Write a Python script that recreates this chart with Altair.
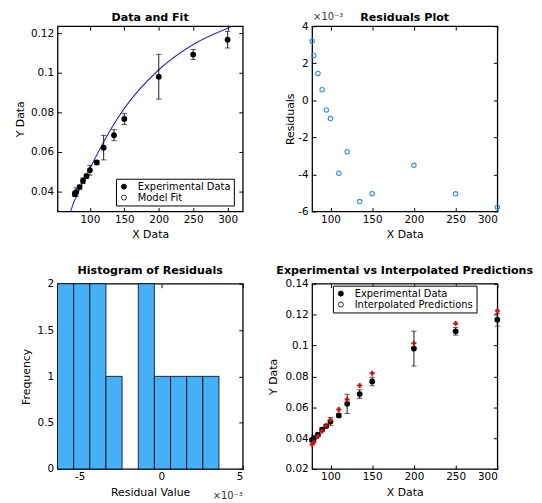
import altair as alt
import pandas as pd

# ---------------- data ----------------
x_data = [78, 80, 85, 90, 95, 100, 110, 120, 135, 150, 200, 250, 300]
y_data = [0.0388, 0.0397, 0.0423, 0.0455, 0.0478, 0.0508, 0.0547, 0.0622, 0.0685, 0.0767, 0.0980, 0.1092, 0.1167]
y_err = [0.0012, 0.0022, 0.0010, 0.0014, 0.0010, 0.0025, 0.0010, 0.0062, 0.0028, 0.0028, 0.0113, 0.0025, 0.0042]
y_pred = [0.0358, 0.0373, 0.0410, 0.0446, 0.0482, 0.0517, 0.0585, 0.0650, 0.0741, 0.0820, 0.1015, 0.1143, 0.1225]
resid_e3 = [3.19, 2.42, 1.45, 0.57, -0.52, -0.99, -3.94, -2.78, -5.47, -5.04, -3.51, -5.05, -5.77]
fit_curve_x = [72, 78, 80, 85, 90, 95, 100, 110, 120, 135, 150, 200, 250, 300, 322]
fit_curve_y = [0.0300, 0.0358, 0.0373, 0.0410, 0.0446, 0.0482, 0.0517, 0.0585, 0.0650, 0.0741, 0.0820,
               0.1015, 0.1143, 0.1225, 0.1256]
hist_edges = [-6.36, -5.37, -4.38, -3.39, -2.40, -1.41, -0.42, 0.57, 1.56, 2.55, 3.54]
hist_counts = [2, 2, 2, 1, 0, 2, 1, 1, 1, 1]

exp_df = pd.DataFrame({"x": x_data, "y": y_data, "err": y_err, "pred": y_pred, "res": resid_e3})
exp_df["lo"] = exp_df["y"] - exp_df["err"]
exp_df["hi"] = exp_df["y"] + exp_df["err"]
fit_df = pd.DataFrame({"fx": fit_curve_x, "fy": fit_curve_y})
hist_df = pd.DataFrame({"b0": hist_edges[:-1], "b1": hist_edges[1:], "count": hist_counts})

FONT = "DejaVu Sans"
W = H = 187
LABEL = "toString(datum.value)"


def axis_main(orient, values, title, title_pad, label_pad):
    return alt.Axis(orient=orient, values=values, labelExpr=LABEL, title=title, grid=False,
                    domain=False, ticks=True, tickSize=4, offset=-4, labelPadding=label_pad,
                    titlePadding=title_pad)


def axis_box(orient, values):
    return alt.Axis(orient=orient, values=values, labels=False, title=None, grid=False,
                    domain=False, ticks=True, tickSize=4, offset=-4)


def legend_layer(field, names, lx, ly):
    df = pd.DataFrame({field: names})
    return alt.Chart(df).mark_point(filled=True, opacity=0, stroke="black", strokeWidth=0.8,
                                    size=26, shape="circle").encode(
        fill=alt.Fill(f"{field}:N", scale=alt.Scale(domain=names, range=["black", "white"]),
                      legend=alt.Legend(title=None, orient="none", legendX=lx, legendY=ly,
                                        symbolOpacity=1, symbolStrokeColor="black",
                                        symbolStrokeWidth=0.8, symbolSize=26, symbolType="circle",
                                        labelFont=FONT, labelFontSize=10, labelColor="black",
                                        strokeColor="black", fillColor="white", padding=3,
                                        rowPadding=1, labelOffset=9))
    )


def title(text, dy=0):
    return alt.Title(text, fontSize=11.2, fontWeight="bold", font=FONT, color="black", offset=3, dy=dy)


# ---------------- panel 1: Data and Fit ----------------
xs1 = alt.Scale(domain=[53, 322], nice=False, zero=False)
ys1 = alt.Scale(domain=[0.03, 0.1235], nice=False, zero=False)
xv1 = [100, 150, 200, 250, 300]
yv1 = [0.04, 0.06, 0.08, 0.1, 0.12]

fit_line = alt.Chart(fit_df).mark_line(color="#2b2bd0", strokeWidth=1.1, clip=True,
                                       interpolate="monotone").encode(
    x=alt.X("fx:Q", scale=xs1, axis=None), y=alt.Y("fy:Q", scale=ys1, axis=None))
err1 = alt.Chart(exp_df).mark_rule(color="black", strokeWidth=0.9).encode(
    x=alt.X("x:Q", scale=xs1, axis=None), y=alt.Y("lo:Q", scale=ys1, axis=None), y2="hi:Q")
caplo1 = alt.Chart(exp_df).mark_tick(color="black", orient="horizontal", size=5.5, thickness=0.9).encode(
    x=alt.X("x:Q", scale=xs1, axis=None), y=alt.Y("lo:Q", scale=ys1, axis=None))
caphi1 = alt.Chart(exp_df).mark_tick(color="black", orient="horizontal", size=5.5, thickness=0.9).encode(
    x=alt.X("x:Q", scale=xs1, axis=None), y=alt.Y("hi:Q", scale=ys1, axis=None))
pts1 = alt.Chart(exp_df).mark_circle(color="black", size=34, opacity=1).encode(
    x=alt.X("x:Q", scale=xs1, axis=axis_main("bottom", xv1, "X Data", 4, 3)),
    y=alt.Y("y:Q", scale=ys1, axis=axis_main("left", yv1, "Y Data", 5, 4)))
box1 = alt.Chart(exp_df).mark_point(opacity=0).encode(
    x=alt.X("x:Q", scale=xs1, axis=axis_box("top", xv1)),
    y=alt.Y("y:Q", scale=ys1, axis=axis_box("right", yv1)))
leg1 = legend_layer("leg1", ["Experimental Data", "Model Fit"], 59, 154)

p1 = alt.layer(leg1, fit_line, err1, caplo1, caphi1, pts1, box1).resolve_axis(
    x="independent", y="independent").properties(width=W, height=H, title=title("Data and Fit"))

# ---------------- panel 2: Residuals Plot ----------------
xs2 = alt.Scale(domain=[78, 300], nice=False, zero=False)
ys2 = alt.Scale(domain=[-6, 4], nice=False, zero=False)
xv2 = [100, 150, 200, 250, 300]
yv2 = [-6, -4, -2, 0, 2, 4]

res_pts = alt.Chart(exp_df).mark_point(shape="circle", filled=False, color="#2f8fe0", size=20,
                                       strokeWidth=1.1, opacity=1).encode(
    x=alt.X("x:Q", scale=xs2, axis=axis_main("bottom", xv2, "X Data", 4, 3)),
    y=alt.Y("res:Q", scale=ys2, axis=axis_main("left", yv2, "Residuals", 2, 4)))
box2 = alt.Chart(exp_df).mark_point(opacity=0).encode(
    x=alt.X("x:Q", scale=xs2, axis=axis_box("top", xv2)),
    y=alt.Y("res:Q", scale=ys2, axis=axis_box("right", yv2)))
exp2 = alt.Chart(pd.DataFrame({"t": ["×10⁻³"]})).mark_text(
    align="left", baseline="alphabetic", font=FONT, fontSize=10, color="#333333").encode(
    text="t:N", x=alt.value(1), y=alt.value(-6))

p2 = alt.layer(res_pts, box2, exp2).resolve_axis(x="independent", y="independent").properties(
    width=W, height=H, title=title("Residuals Plot", dy=14))

# ---------------- panel 3: Histogram of Residuals ----------------
xs3 = alt.Scale(domain=[-6.36, 5], nice=False, zero=False)
ys3 = alt.Scale(domain=[0, 2], nice=False, zero=True)
xv3 = [-5, 0, 5]
yv3 = [0, 0.5, 1, 1.5, 2]

bars = alt.Chart(hist_df).transform_filter("datum.count > 0").mark_bar(
    color="#45b0f8", stroke="black", strokeWidth=0.8, opacity=1).encode(
    x=alt.X("b0:Q", scale=xs3, axis=axis_main("bottom", xv3, "Residual Value", 4, 3)),
    x2="b1:Q",
    y=alt.Y("count:Q", scale=ys3, axis=axis_main("left", yv3, "Frequency", 6, 4)),
    y2=alt.datum(0))
box3 = alt.Chart(hist_df).mark_point(opacity=0).encode(
    x=alt.X("b0:Q", scale=xs3, axis=axis_box("top", xv3)),
    y=alt.Y("count:Q", scale=ys3, axis=axis_box("right", yv3)))
exp3 = alt.Chart(pd.DataFrame({"t": ["×10⁻³"]})).mark_text(
    align="right", baseline="alphabetic", font=FONT, fontSize=10, color="#333333").encode(
    text="t:N", x=alt.value(W), y=alt.value(217))

p3 = alt.layer(bars, box3, exp3).resolve_axis(x="independent", y="independent").properties(
    width=W, height=H, title=title("Histogram of Residuals"))

# ---------------- panel 4: Experimental vs Interpolated ----------------
xs4 = alt.Scale(domain=[78, 300], nice=False, zero=False)
ys4 = alt.Scale(domain=[0.02, 0.14], nice=False, zero=False)
xv4 = [100, 150, 200, 250, 300]
yv4 = [0.02, 0.04, 0.06, 0.08, 0.1, 0.12, 0.14]

err4 = alt.Chart(exp_df).mark_rule(color="black", strokeWidth=0.9).encode(
    x=alt.X("x:Q", scale=xs4, axis=None), y=alt.Y("lo:Q", scale=ys4, axis=None), y2="hi:Q")
caplo4 = alt.Chart(exp_df).mark_tick(color="black", orient="horizontal", size=5.5, thickness=0.9).encode(
    x=alt.X("x:Q", scale=xs4, axis=None), y=alt.Y("lo:Q", scale=ys4, axis=None))
caphi4 = alt.Chart(exp_df).mark_tick(color="black", orient="horizontal", size=5.5, thickness=0.9).encode(
    x=alt.X("x:Q", scale=xs4, axis=None), y=alt.Y("hi:Q", scale=ys4, axis=None))
pts4 = alt.Chart(exp_df).mark_circle(color="black", size=34, opacity=1).encode(
    x=alt.X("x:Q", scale=xs4, axis=axis_main("bottom", xv4, "X Data", 4, 3)),
    y=alt.Y("y:Q", scale=ys4, axis=axis_main("left", yv4, "Y Data", 7, 4)))
pred4 = alt.Chart(exp_df).mark_point(shape="cross", filled=True, color="#d01010", size=26, opacity=1).encode(
    x=alt.X("x:Q", scale=xs4, axis=None), y=alt.Y("pred:Q", scale=ys4, axis=None))
box4 = alt.Chart(exp_df).mark_point(opacity=0).encode(
    x=alt.X("x:Q", scale=xs4, axis=axis_box("top", xv4)),
    y=alt.Y("y:Q", scale=ys4, axis=axis_box("right", yv4)))
leg4 = legend_layer("leg4", ["Experimental Data", "Interpolated Predictions"], 21, 2)

p4 = alt.layer(leg4, err4, caplo4, caphi4, pts4, pred4, box4).resolve_axis(
    x="independent", y="independent").properties(
    width=W, height=H, title=title("Experimental vs Interpolated Predictions"))

chart = alt.concat(p1, p2, p3, p4, columns=2, spacing={"row": 73, "column": 70},
                   bounds="flush").resolve_scale(fill="independent").properties(
    padding={"left": 5, "top": 0, "right": 0, "bottom": 0}
).configure_view(stroke="black", strokeWidth=1.3).configure_axis(
    labelFont=FONT, labelFontSize=10.5, labelColor="black", titleFont=FONT, titleFontSize=11,
    titleFontWeight="normal", titleColor="black", tickColor="black", tickWidth=1
).configure_legend(labelFont=FONT)

chart.save("out.html", embed_options={"renderer": "svg", "actions": False})
